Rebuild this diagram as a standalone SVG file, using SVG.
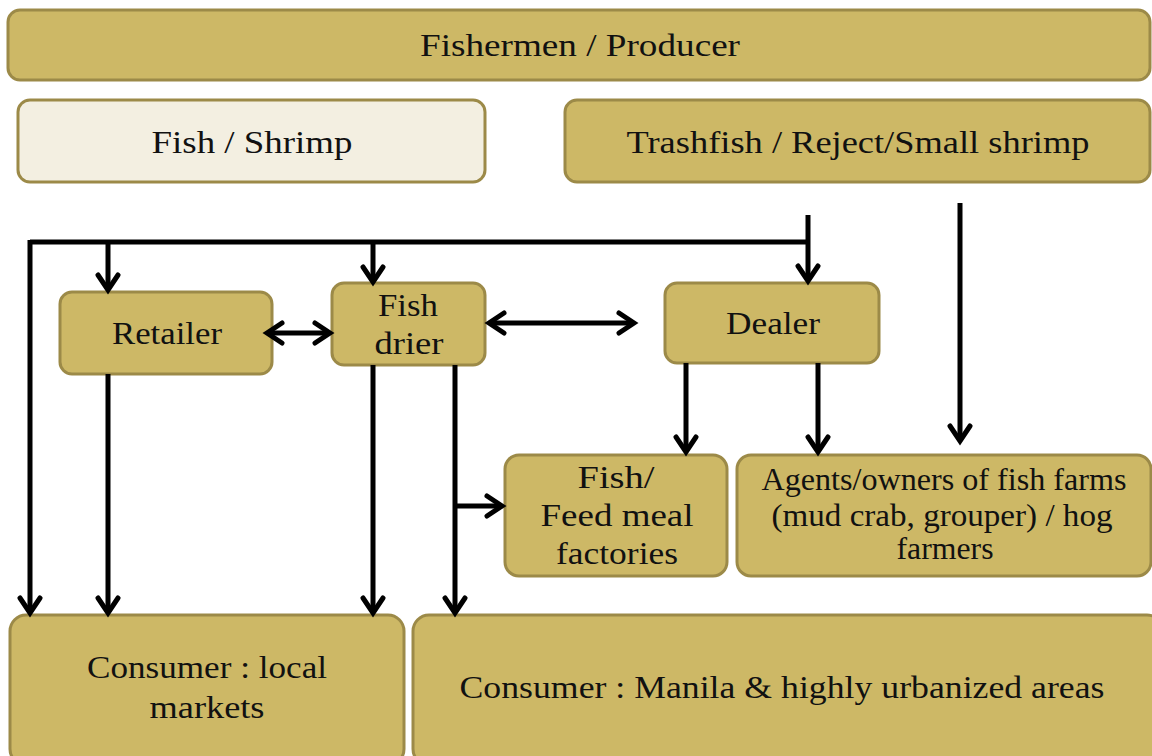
<svg xmlns="http://www.w3.org/2000/svg" width="1152" height="756" viewBox="0 0 1152 756">
<style>
.n{fill:#cdb866;stroke:#9c8a48;stroke-width:3}
.l{fill:#f3efe1;stroke:#9c8a48;stroke-width:3}
text{font-family:"Liberation Serif","DejaVu Serif",serif;font-size:32px;fill:#111;text-anchor:middle}
.c{fill:none;stroke:#000;stroke-width:5}
</style>
<defs>
<marker id="a" viewBox="0 0 26 26" refX="20" refY="13" markerWidth="26" markerHeight="26" markerUnits="userSpaceOnUse" orient="auto-start-reverse">
<path d="M5,3 L20,13 L5,23" fill="none" stroke="#000" stroke-width="5" stroke-linecap="round" stroke-linejoin="miter"/>
</marker>
</defs>
<rect width="1152" height="756" fill="#fff"/>
<g id="producer"><rect class="n" x="8" y="10" width="1142" height="70" rx="12"/><text x="580" y="56" textLength="320" lengthAdjust="spacingAndGlyphs">Fishermen / Producer</text></g>
<g id="fish-shrimp"><rect class="l" x="18" y="100" width="467" height="82" rx="12"/><text x="252" y="153" textLength="201" lengthAdjust="spacingAndGlyphs">Fish / Shrimp</text></g>
<g id="trashfish"><rect class="n" x="565" y="100" width="585" height="82" rx="12"/><text x="858" y="153" textLength="463" lengthAdjust="spacingAndGlyphs">Trashfish / Reject/Small shrimp</text></g>
<g id="retailer"><rect class="n" x="60" y="292" width="212" height="82" rx="12"/><text x="167" y="344" textLength="110" lengthAdjust="spacingAndGlyphs">Retailer</text></g>
<g id="fish-drier"><rect class="n" x="332" y="283" width="153" height="82" rx="12"/><text x="408" y="316" textLength="60" lengthAdjust="spacingAndGlyphs">Fish</text><text x="409" y="354" textLength="69" lengthAdjust="spacingAndGlyphs">drier</text></g>
<g id="dealer"><rect class="n" x="665" y="283" width="214" height="80" rx="12"/><text x="773" y="334" textLength="94" lengthAdjust="spacingAndGlyphs">Dealer</text></g>
<g id="feed-meal"><rect class="n" x="505" y="455" width="222" height="121" rx="14"/><text x="616" y="488" textLength="77" lengthAdjust="spacingAndGlyphs">Fish/</text><text x="617" y="526" textLength="153" lengthAdjust="spacingAndGlyphs">Feed  meal</text><text x="617" y="564" textLength="122" lengthAdjust="spacingAndGlyphs">factories</text></g>
<g id="agents"><rect class="n" x="737" y="455" width="414" height="121" rx="14"/><text x="944" y="490" textLength="365" lengthAdjust="spacingAndGlyphs">Agents/owners of fish farms</text><text x="942" y="526" textLength="341" lengthAdjust="spacingAndGlyphs">(mud crab, grouper) / hog</text><text x="945" y="559" textLength="97" lengthAdjust="spacingAndGlyphs">farmers</text></g>
<g id="consumer-local"><rect class="n" x="10" y="615" width="394" height="150" rx="16"/><text x="207" y="678" textLength="240" lengthAdjust="spacingAndGlyphs">Consumer : local</text><text x="207" y="718" textLength="115" lengthAdjust="spacingAndGlyphs">markets</text></g>
<g id="consumer-manila"><rect class="n" x="413" y="615" width="750" height="150" rx="16"/><text x="782" y="698" textLength="645" lengthAdjust="spacingAndGlyphs">Consumer : Manila &amp; highly urbanized areas</text></g>
<g id="connectors">
<path class="c" d="M30,242 H808"/>
<path class="c" d="M808,215 V281" marker-end="url(#a)"/>
<path class="c" d="M30,240 V613" marker-end="url(#a)"/>
<path class="c" d="M108,242 V290" marker-end="url(#a)"/>
<path class="c" d="M373,242 V282" marker-end="url(#a)"/>
<path class="c" d="M960,203 V441" marker-end="url(#a)"/>
<path class="c" d="M267,333 H330" marker-start="url(#a)" marker-end="url(#a)"/>
<path class="c" d="M489,323 H634" marker-start="url(#a)" marker-end="url(#a)"/>
<path class="c" d="M108,374 V613" marker-end="url(#a)"/>
<path class="c" d="M373,365 V613" marker-end="url(#a)"/>
<path class="c" d="M455,365 V613" marker-end="url(#a)"/>
<path class="c" d="M455,506 H502" marker-end="url(#a)"/>
<path class="c" d="M686,363 V452" marker-end="url(#a)"/>
<path class="c" d="M818,363 V452" marker-end="url(#a)"/>
</g>
</svg>
